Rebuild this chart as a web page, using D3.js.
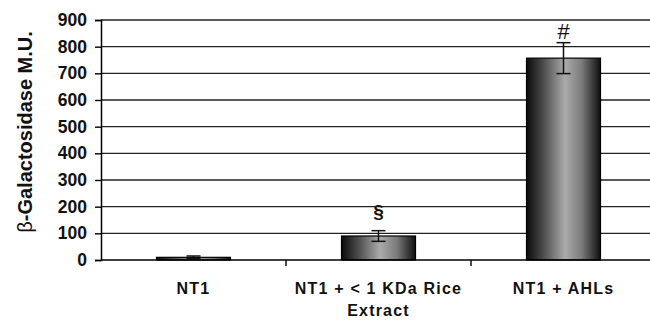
<!DOCTYPE html>
<html>
<head>
<meta charset="utf-8">
<script src="https://cdn.jsdelivr.net/npm/d3@7"></script>
<style>
  body { margin: 0; background: #fff; }
  text { font-family: "Liberation Sans", Arial, sans-serif; }
</style>
</head>
<body>
<div id="chart"></div>
<script>
"use strict";

// chart data
const categories = ["NT1", "NT1 + < 1 KDa Rice Extract", "NT1 + AHLs"];
const categoryLines = [["NT1"], ["NT1 + < 1 KDa Rice", "Extract"], ["NT1 + AHLs"]];
const values = [10, 90, 757];
const errors = [5, 20, 58];
const marks = ["", "\u00a7", "#"];
const yTicks = [0, 100, 200, 300, 400, 500, 600, 700, 800, 900];

const W = 650, H = 320;
const margin = {top: 20, right: -6, bottom: 60, left: 101};
const width = W - margin.left - margin.right;
const height = H - margin.top - margin.bottom;

const svg = d3.select("#chart").append("svg")
  .attr("width", W).attr("height", H);

// gradient for the bars: dark edges, light centre
const grad = svg.append("defs").append("linearGradient")
  .attr("id", "barGrad").attr("x1", "0%").attr("x2", "100%");
grad.append("stop").attr("offset", "0%").attr("stop-color", "#0a0a0a");
grad.append("stop").attr("offset", "22%").attr("stop-color", "#4a4a4a");
grad.append("stop").attr("offset", "52%").attr("stop-color", "#ababab");
grad.append("stop").attr("offset", "75%").attr("stop-color", "#7a7a7a");
grad.append("stop").attr("offset", "100%").attr("stop-color", "#0e0e0e");

const g = svg.append("g").attr("transform", `translate(${margin.left},${margin.top})`);

const x = d3.scaleBand().domain(categories).range([0, width])
  .paddingInner(0.6).paddingOuter(0.3);
const xStep = x.step();
const y = d3.scaleLinear().domain([0, 900]).range([height, 0]);

// grid lines
g.append("g").selectAll("line")
  .data(yTicks.filter(d => d > 0))
  .join("line")
  .attr("x1", 0).attr("x2", width)
  .attr("y1", d => y(d)).attr("y2", d => y(d))
  .attr("stroke", "#222").attr("stroke-width", 1.4);

// y axis
const yAxis = g.append("g")
  .call(d3.axisLeft(y).tickValues(yTicks).tickSize(6).tickPadding(8));
yAxis.select(".domain").attr("stroke", "#000").attr("stroke-width", 1.5);
yAxis.selectAll(".tick line").attr("stroke", "#000").attr("stroke-width", 1.4);
yAxis.selectAll(".tick text")
  .style("font-size", "17.5px").style("font-weight", "bold")
  .style("font-family", "Liberation Sans, Arial, sans-serif")
  .attr("fill", "#111");

// bars
g.selectAll(".bar")
  .data(values)
  .join("rect")
  .attr("class", "bar")
  .attr("x", (d, i) => x(categories[i]))
  .attr("y", d => y(d))
  .attr("width", x.bandwidth())
  .attr("height", d => height - y(d))
  .attr("fill", "url(#barGrad)")
  .attr("stroke", "#000").attr("stroke-width", 1.2);

// x axis baseline + category ticks
g.append("line")
  .attr("x1", 0).attr("x2", width)
  .attr("y1", height).attr("y2", height)
  .attr("stroke", "#000").attr("stroke-width", 1.5);
g.selectAll(".ctick")
  .data(categories.slice(1))
  .join("line")
  .attr("x1", d => x(d) - xStep * 0.3).attr("x2", d => x(d) - xStep * 0.3)
  .attr("y1", height).attr("y2", height + 6)
  .attr("stroke", "#000").attr("stroke-width", 1.4);

// error bars
const cx = i => x(categories[i]) + x.bandwidth() / 2;
const eb = g.append("g").selectAll("g")
  .data(values)
  .join("g")
  .attr("stroke", "#111").attr("stroke-width", 1.5);
eb.append("line")
  .attr("x1", (d, i) => cx(i)).attr("x2", (d, i) => cx(i))
  .attr("y1", (d, i) => y(d + errors[i])).attr("y2", (d, i) => y(d - errors[i]));
eb.append("line")
  .attr("x1", (d, i) => cx(i) - 7).attr("x2", (d, i) => cx(i) + 7)
  .attr("y1", (d, i) => y(d + errors[i])).attr("y2", (d, i) => y(d + errors[i]));
eb.append("line")
  .attr("x1", (d, i) => cx(i) - 7).attr("x2", (d, i) => cx(i) + 7)
  .attr("y1", (d, i) => y(d - errors[i])).attr("y2", (d, i) => y(d - errors[i]));

// significance marks
g.selectAll(".mark")
  .data(marks)
  .join("text")
  .attr("class", "mark")
  .attr("x", (d, i) => cx(i))
  .attr("y", (d, i) => y(values[i] + errors[i]) - (i === 1 ? 13 : 4))
  .attr("text-anchor", "middle")
  .style("font-size", (d, i) => i === 1 ? "19px" : "22px")
  .style("font-weight", (d, i) => i === 1 ? "bold" : "normal")
  .attr("fill", "#111")
  .text(d => d);

// category labels
const lab = g.selectAll(".clabel")
  .data(categoryLines)
  .join("text")
  .attr("class", "clabel")
  .attr("text-anchor", "middle")
  .style("font-size", "16px").style("font-weight", "bold")
  .style("letter-spacing", "1.2px")
  .attr("fill", "#111");
lab.selectAll("tspan")
  .data((d, i) => d.map(t => ({t, i})))
  .join("tspan")
  .attr("x", d => cx(d.i))
  .attr("y", (d, j) => height + 34 + j * 22)
  .text(d => d.t);

// y axis title
const yt = svg.append("text")
  .attr("transform", `translate(32,${margin.top + 112}) rotate(-90)`)
  .attr("text-anchor", "middle")
  .style("font-size", "20px").style("font-weight", "bold")
  .attr("fill", "#111");
yt.append("tspan").style("font-weight", "normal").text("\u03b2");
yt.append("tspan").text("-Galactosidase M.U.");
</script>
</body>
</html>
